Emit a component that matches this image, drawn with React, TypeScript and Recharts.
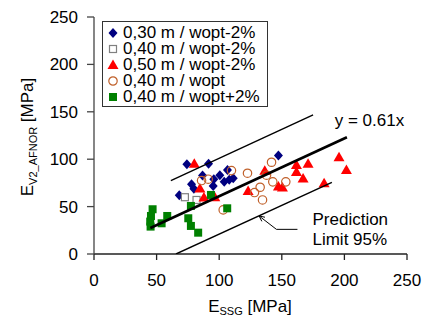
import React from 'react';
import { ScatterChart, Scatter, XAxis, YAxis, Legend, ReferenceDot } from 'recharts';

const FONT = '"Liberation Sans", Arial, sans-serif';

const xTicks = [0, 50, 100, 150, 200, 250];
const yTicks = [0, 50, 100, 150, 200, 250];

const legendLabels = [
  '0,30 m / wopt-2%',
  '0,40 m / wopt-2%',
  '0,50 m / wopt-2%',
  '0,40 m / wopt',
  '0,40 m / wopt+2%',
];

const s30 = [
  { x: 74.2, y: 94.7 }, { x: 91.5, y: 95.1 }, { x: 147.3, y: 103.9 }, { x: 106.6, y: 88.7 },
  { x: 100.5, y: 83.1 }, { x: 86.7, y: 82.7 }, { x: 95.7, y: 78.9 }, { x: 95.2, y: 71.8 },
  { x: 104.0, y: 76.1 }, { x: 108.0, y: 78.2 }, { x: 111.2, y: 79.9 }, { x: 77.9, y: 73.6 },
  { x: 79.8, y: 68.7 }, { x: 68.1, y: 62.0 },
];

const s40 = [
  { x: 72.6, y: 59.9 }, { x: 81.9, y: 57.0 },
];

const s50 = [
  { x: 80.1, y: 95.1 }, { x: 84.6, y: 69.0 }, { x: 87.8, y: 59.5 }, { x: 96.5, y: 59.9 },
  { x: 136.4, y: 87.7 }, { x: 123.1, y: 66.5 }, { x: 147.3, y: 71.1 }, { x: 150.5, y: 70.1 },
  { x: 161.7, y: 94.0 }, { x: 171.0, y: 95.1 }, { x: 161.7, y: 86.6 }, { x: 167.0, y: 79.6 },
  { x: 195.7, y: 102.1 }, { x: 201.6, y: 88.7 }, { x: 183.8, y: 74.6 },
];

const s40opt = [
  { x: 85.9, y: 77.5 }, { x: 91.2, y: 78.9 }, { x: 109.8, y: 88.0 }, { x: 122.6, y: 85.2 },
  { x: 141.8, y: 96.8 }, { x: 137.8, y: 83.1 }, { x: 142.8, y: 76.1 }, { x: 153.2, y: 76.1 },
  { x: 132.7, y: 70.4 }, { x: 128.2, y: 64.8 }, { x: 134.6, y: 57.0 }, { x: 103.2, y: 46.5 },
];

const s40wet = [
  { x: 46.8, y: 47.2 }, { x: 45.5, y: 40.1 }, { x: 44.9, y: 34.2 }, { x: 45.2, y: 28.9 },
  { x: 54.0, y: 32.4 }, { x: 58.5, y: 40.1 }, { x: 75.3, y: 37.7 }, { x: 77.4, y: 29.6 },
  { x: 83.2, y: 22.5 }, { x: 77.4, y: 50.7 }, { x: 93.4, y: 62.3 }, { x: 106.4, y: 48.2 },
];

const fitLine = [{ x: 45, y: 27.4 }, { x: 202, y: 123.2 }];
const upperLimit = [{ x: 61.4, y: 77.5 }, { x: 175, y: 146.8 }];
const lowerLimit = [{ x: 65.5, y: 0 }, { x: 190, y: 75.5 }];
const arrowPath = [{ x: 131.9, y: 40.1 }, { x: 145.7, y: 26 }, { x: 162.5, y: 26 }];

const fitLabel = { x: 192.3, y: 135.2, text: 'y = 0.61x' };
const predLabel1 = { x: 174.5, y: 30.6, text: 'Prediction' };
const predLabel2 = { x: 174.5, y: 9.5, text: 'Limit 95%' };

const Diamond = (p: any) => (
  <path d={`M${p.cx},${p.cy - 5}L${p.cx + 4.5},${p.cy}L${p.cx},${p.cy + 5}L${p.cx - 4.5},${p.cy}Z`} fill="#000080" />
);
const OpenSquare = (p: any) => (
  <rect x={p.cx - 3.5} y={p.cy - 3.5} width={7} height={7} fill="#fff" stroke="#808080" strokeWidth={1.2} />
);
const Triangle = (p: any) => (
  <path d={`M${p.cx},${p.cy - 5.5}L${p.cx + 5.5},${p.cy + 4}L${p.cx - 5.5},${p.cy + 4}Z`} fill="#ff0000" />
);
const OpenCircle = (p: any) => (
  <circle cx={p.cx} cy={p.cy} r={4.2} fill="none" stroke="#c0602a" strokeWidth={1.2} />
);
const GreenSquare = (p: any) => (
  <rect x={p.cx - 4} y={p.cy - 4} width={8} height={8} fill="#008000" />
);
const NoShape = () => <g />;

const ArrowHead = (p: any) => {
  if (p.index !== 0) return <g />;
  const ux = 0.79, uy = 0.61; // direction back toward tail (pixel space)
  const len = 6, a = 0.45;
  const c = Math.cos(a), s = Math.sin(a);
  const x1 = p.cx + len * (ux * c - uy * s), y1 = p.cy + len * (ux * s + uy * c);
  const x2 = p.cx + len * (ux * c + uy * s), y2 = p.cy + len * (-ux * s + uy * c);
  return <path d={`M${x1},${y1}L${p.cx},${p.cy}L${x2},${y2}`} fill="none" stroke="#000" strokeWidth={1} />;
};

const TextAt = (text: string) => (p: any) => (
  <text x={p.cx} y={p.cy} fontSize={17} fontFamily={FONT} fill="#000" textAnchor="start">{text}</text>
);

const legendShapes = [
  <path d="M6,1L10.5,6L6,11L1.5,6Z" fill="#000080" />,
  <rect x={2.5} y={2.5} width={7} height={7} fill="#fff" stroke="#808080" strokeWidth={1.2} />,
  <path d="M6,0.5L11.5,10L0.5,10Z" fill="#ff0000" />,
  <circle cx={6} cy={6} r={4.2} fill="none" stroke="#c0602a" strokeWidth={1.2} />,
  <rect x={2} y={2} width={8} height={8} fill="#008000" />,
];

const renderLegend = () => (
  <div style={{ border: '1px solid #333', background: '#fff', padding: '3px 4px 2px 4px', boxSizing: 'border-box', width: 166, height: 86 }}>
    {legendLabels.map((l, i) => (
      <div key={l} style={{ display: 'flex', alignItems: 'center', height: 16, fontFamily: FONT, fontSize: 17, lineHeight: '16px', whiteSpace: 'nowrap' }}>
        <svg width={12} height={12} style={{ marginRight: 4, flex: 'none' }}>{legendShapes[i]}</svg>
        <span>{l}</span>
      </div>
    ))}
  </div>
);

const YLabel = () => (
  <text x={33} y={137} transform="rotate(-90 33 137)" textAnchor="middle" fontFamily={FONT} fontSize={17} fill="#000">
    E<tspan fontSize={11} dy={4}>V2_AFNOR</tspan><tspan dy={-4}> [MPa]</tspan>
  </text>
);

const XLabel = () => (
  <text x={250} y={312} textAnchor="middle" fontFamily={FONT} fontSize={17} fill="#000">
    E<tspan fontSize={11} dy={3}>SSG</tspan><tspan dy={-3}> [MPa]</tspan>
  </text>
);

export default function App() {
  const tickStyle = { fontSize: 17, fontFamily: FONT, fill: '#000' };
  return (
    <div style={{ position: 'absolute', left: 0, top: 0, width: 427, height: 320, background: '#fff' }}>
      <ScatterChart width={427} height={320} margin={{ top: 17, right: 20, bottom: 26, left: 0 }}>
        <XAxis
          type="number" dataKey="x" domain={[0, 250]} ticks={xTicks} allowDataOverflow
          height={40} tickSize={6} tickMargin={14} tick={tickStyle}
          axisLine={{ stroke: '#222', strokeWidth: 1.3 }} tickLine={{ stroke: '#222', strokeWidth: 1.3 }}
          label={{ content: XLabel }}
        />
        <YAxis
          type="number" dataKey="y" domain={[0, 250]} ticks={yTicks} allowDataOverflow
          width={94} tickSize={7} tickMargin={9} tick={tickStyle}
          axisLine={{ stroke: '#444', strokeWidth: 1.3 }} tickLine={{ stroke: '#444', strokeWidth: 1.3 }}
          label={{ content: YLabel }}
        />
        <Legend
          layout="vertical" align="center" verticalAlign="middle" content={renderLegend}
          wrapperStyle={{ left: 102, top: 21, width: 166, height: 86 }}
        />
        <Scatter name={legendLabels[0]} data={s30} shape={Diamond} isAnimationActive={false} />
        <Scatter name={legendLabels[1]} data={s40} shape={OpenSquare} isAnimationActive={false} />
        <Scatter name={legendLabels[2]} data={s50} shape={Triangle} isAnimationActive={false} />
        <Scatter name={legendLabels[3]} data={s40opt} shape={OpenCircle} isAnimationActive={false} />
        <Scatter name={legendLabels[4]} data={s40wet} shape={GreenSquare} isAnimationActive={false} />
        <Scatter data={fitLine} line={{ stroke: '#000', strokeWidth: 2.6 }} shape={NoShape} legendType="none" isAnimationActive={false} />
        <Scatter data={upperLimit} line={{ stroke: '#000', strokeWidth: 1.4 }} shape={NoShape} legendType="none" isAnimationActive={false} />
        <Scatter data={lowerLimit} line={{ stroke: '#000', strokeWidth: 1.4 }} shape={NoShape} legendType="none" isAnimationActive={false} />
        <Scatter data={arrowPath} line={{ stroke: '#000', strokeWidth: 1 }} shape={ArrowHead} legendType="none" isAnimationActive={false} />
        <ReferenceDot x={fitLabel.x} y={fitLabel.y} r={0} shape={TextAt(fitLabel.text)} />
        <ReferenceDot x={predLabel1.x} y={predLabel1.y} r={0} shape={TextAt(predLabel1.text)} />
        <ReferenceDot x={predLabel2.x} y={predLabel2.y} r={0} shape={TextAt(predLabel2.text)} />
      </ScatterChart>
    </div>
  );
}
